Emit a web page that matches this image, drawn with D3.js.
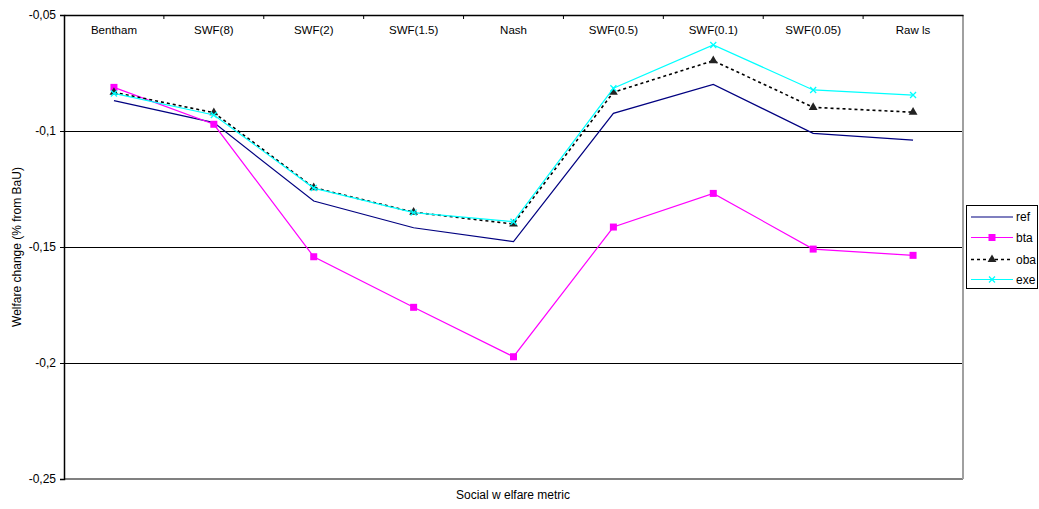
<!DOCTYPE html>
<html><head><meta charset="utf-8">
<script src="https://cdn.jsdelivr.net/npm/d3@7"></script>
<style>body{margin:0;background:#fff;}svg{display:block;font-family:"Liberation Sans",Arial,sans-serif;}</style>
</head><body><svg id="c" width="1039" height="509"></svg>
<script>
const categories = ["Bentham","SWF(8)","SWF(2)","SWF(1.5)","Nash","SWF(0.5)","SWF(0.1)","SWF(0.05)","Raw ls"];
const ref = [-0.0869,-0.0964,-0.1302,-0.1417,-0.1477,-0.0924,-0.0799,-0.1010,-0.1039];
const bta = [-0.0812,-0.0971,-0.1542,-0.1760,-0.1973,-0.1414,-0.1269,-0.1509,-0.1536];
const oba = [-0.0833,-0.0921,-0.1244,-0.1350,-0.1401,-0.0833,-0.0697,-0.0898,-0.0919];
const exe = [-0.0838,-0.0931,-0.1246,-0.1352,-0.1391,-0.0816,-0.0629,-0.0823,-0.0845];
const yTicks = [-0.05,-0.1,-0.15,-0.2,-0.25];
const seriesNames = ["ref","bta","oba","exe"];

const series = [
  {name:"ref", values:ref, color:"#000080", dash:null, marker:null, w:1.2},
  {name:"bta", values:bta, color:"#FF00FF", dash:null, marker:"square", w:1.2},
  {name:"oba", values:oba, color:"#000000", dash:"3,3", marker:"triangle", w:1.6},
  {name:"exe", values:exe, color:"#00FFFF", dash:null, marker:"x", w:1.2}
];

const svg = d3.select("#c");
const L=64, R=963, T=15, B=479;
const x = d3.scaleBand().domain(categories).range([L,R]);
const y = d3.scaleLinear().domain([-0.25,-0.05]).range([B,T]);
const fmt = d => String(d).replace(".",",");

// gridlines
svg.append("g").selectAll("line").data(yTicks.filter(d=>d>-0.25 && d<-0.05)).join("line")
  .attr("x1",L).attr("x2",R).attr("y1",d=>y(d)).attr("y2",d=>y(d))
  .attr("stroke","#000").attr("stroke-width",1).attr("shape-rendering","crispEdges");

// frame
svg.append("line").attr("x1",L).attr("x2",R).attr("y1",B).attr("y2",B).attr("stroke","#808080").attr("stroke-width",1.5).attr("shape-rendering","crispEdges");
svg.append("line").attr("x1",R).attr("x2",R).attr("y1",T).attr("y2",B).attr("stroke","#a0a0a0").attr("stroke-width",1.5).attr("shape-rendering","crispEdges");

// top axis (category labels inside)
const xAxis = d3.axisTop(x).tickSize(0).tickPadding(0);
const gx = svg.append("g").attr("transform",`translate(0,${T})`).call(xAxis);
gx.select(".domain").attr("stroke","#000").attr("stroke-width",1.5);
gx.selectAll(".tick text").attr("y",19).attr("font-size",11.5).attr("fill","#000").attr("font-family","Liberation Sans, Arial, sans-serif").attr("dy",0);
gx.selectAll(".tick line").remove();
// boundary ticks
svg.append("g").selectAll("line").data(categories.slice(1)).join("line")
  .attr("x1",d=>x(d)).attr("x2",d=>x(d)).attr("y1",T).attr("y2",T+4)
  .attr("stroke","#000").attr("stroke-width",1);

// left axis
const yAxis = d3.axisLeft(y).tickValues(yTicks).tickFormat(fmt).tickSize(4).tickPadding(4);
const gy = svg.append("g").attr("transform",`translate(${L},0)`).call(yAxis);
gy.select(".domain").attr("stroke","#000").attr("stroke-width",1.5);
gy.selectAll(".tick line").attr("stroke","#000");
gy.selectAll(".tick text").attr("font-size",12).attr("fill","#000").attr("font-family","Liberation Sans, Arial, sans-serif");

// lines
const line = d3.line().x((d,i)=>x(categories[i])+x.bandwidth()/2).y(d=>y(d));
function drawMarker(g, type, color, cx, cy){
  if(type==="square"){
    g.append("rect").attr("x",cx-3.5).attr("y",cy-3.5).attr("width",7).attr("height",7).attr("fill",color);
  } else if(type==="triangle"){
    g.append("path").attr("d",d3.symbol(d3.symbolTriangle,34)()).attr("transform",`translate(${cx},${cy})`).attr("fill","#222");
  } else if(type==="x"){
    g.append("path").attr("d",`M${cx-3},${cy-3}L${cx+3},${cy+3}M${cx-3},${cy+3}L${cx+3},${cy-3}`).attr("stroke",color).attr("stroke-width",1.3);
  }
}
series.forEach(s=>{
  const g = svg.append("g");
  g.append("path").attr("d",line(s.values)).attr("fill","none").attr("stroke",s.color)
    .attr("stroke-width",s.w).attr("stroke-dasharray",s.dash);
  if(s.marker) s.values.forEach((v,i)=>drawMarker(g,s.marker,s.color,x(categories[i])+x.bandwidth()/2,y(v)));
});

// axis titles
svg.append("text").attr("transform","translate(21,247) rotate(-90)").attr("text-anchor","middle")
  .attr("font-size",12).text("Welfare change (% from BaU)");
svg.append("text").attr("x",513).attr("y",499).attr("text-anchor","middle").attr("font-size",12).text("Social w elfare metric");

// legend
const lg = svg.append("g");
lg.append("rect").attr("x",966.5).attr("y",205.5).attr("width",71).attr("height",83).attr("fill","#fff").attr("stroke","#000").attr("stroke-width",1);
const ly = [217,237.5,259.5,279.5];
series.forEach((s,i)=>{
  lg.append("line").attr("x1",971).attr("x2",1013).attr("y1",ly[i]).attr("y2",ly[i])
    .attr("stroke",s.color).attr("stroke-width",s.w).attr("stroke-dasharray",s.dash);
  if(s.marker) drawMarker(lg,s.marker,s.color,992,ly[i]);
  lg.append("text").attr("x",1016).attr("y",ly[i]+4).attr("font-size",12).text(seriesNames[i]);
});
</script></body></html>
